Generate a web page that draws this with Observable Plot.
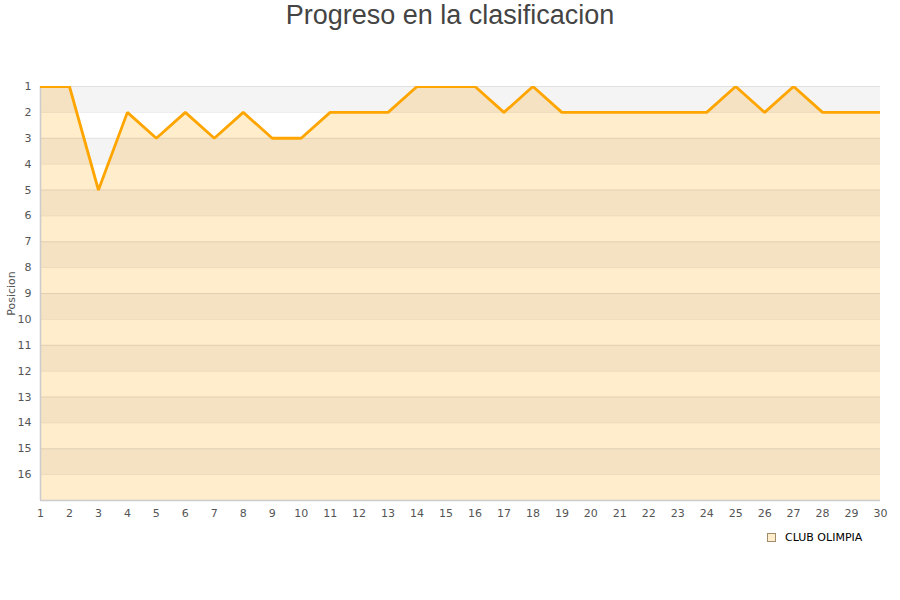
<!DOCTYPE html>
<html>
<head>
<meta charset="utf-8">
<script src="https://cdn.jsdelivr.net/npm/d3@7"></script>
<script src="https://cdn.jsdelivr.net/npm/@observablehq/plot@0.6"></script>
<style>
  html, body { margin: 0; padding: 0; background: #fff; }
  #wrap { position: relative; width: 900px; height: 600px; }
  #title { position: absolute; top: -1px; left: 0; width: 900px; text-align: center;
    font-family: "Liberation Sans", Arial, sans-serif; font-size: 27px; color: #444; line-height: 32px; }
  #legend { position: absolute; left: 767px; top: 531px; font-family: "DejaVu Sans", sans-serif;
    font-size: 11px; color: #000; display: flex; align-items: center; }
  #legend .sw { width: 7px; height: 7px; border: 1px solid #a08c6a; background: #ffedcc; margin-right: 9px; }
</style>
</head>
<body>
<div id="wrap">
  <div id="title">Progreso en la clasificacion</div>
  <div id="chart"></div>
  <div id="legend"><span class="sw"></span><span>CLUB OLIMPIA</span></div>
</div>
<script>
const jornadas = d3.range(1, 31);
const posiciones = [1, 1, 5, 2, 3, 2, 3, 2, 3, 3, 2, 2, 2, 1, 1, 1, 2, 1, 2, 2, 2, 2, 2, 2, 1, 2, 1, 2, 2, 2];
const yTicks = d3.range(1, 17);
const xTicks = d3.range(1, 31);
const serie = "CLUB OLIMPIA";

const data = jornadas.map((j, i) => ({jornada: j, pos: posiciones[i]}));
const bands = d3.range(1, 17, 2);

const chart = Plot.plot({
  width: 900,
  height: 600,
  marginTop: 86,
  marginLeft: 40,
  marginRight: 20,
  marginBottom: 100,
  style: {fontFamily: "DejaVu Sans, sans-serif", fontSize: "11px", color: "#555", background: "transparent"},
  x: {domain: [1, 30], ticks: xTicks, tickSize: 0, tickPadding: 9, label: null, tickFormat: d => String(d)},
  y: {domain: [1, 17], reverse: true, ticks: yTicks, tickSize: 0, tickPadding: 9, label: "Posicion", labelAnchor: "center", labelOffset: 33, labelArrow: "none", tickFormat: d => String(d)},
  marks: [
    Plot.areaY(data, {x: "jornada", y1: "pos", y2: 17, fill: "#ffedcc"}),
    Plot.rect(bands, {x1: 1, x2: 30, y1: d => d, y2: d => d + 1, fill: "black", fillOpacity: 0.045}),
    Plot.ruleY(yTicks, {stroke: "black", strokeOpacity: 0.08}),
    Plot.ruleX([1], {stroke: "#ccc", strokeWidth: 1.5}),
    Plot.ruleY([17], {stroke: "#ccc", strokeWidth: 1.5}),
    Plot.line(data, {x: "jornada", y: "pos", stroke: "#ffa500", strokeWidth: 2.8, clip: true, strokeLinejoin: "miter"})
  ]
});
chart.style.position = "absolute";
chart.style.left = "0";
chart.style.top = "0";
document.getElementById("chart").appendChild(chart);
</script>
</body>
</html>
